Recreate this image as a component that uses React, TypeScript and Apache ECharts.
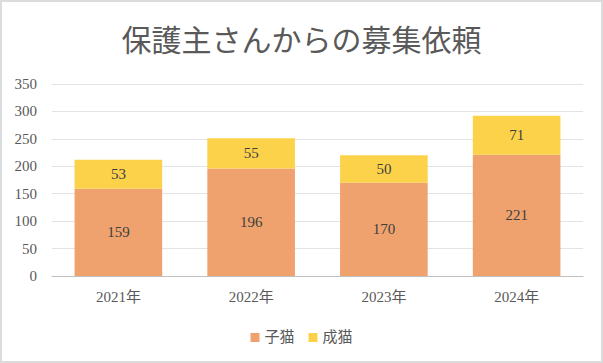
import React, { useEffect, useRef } from "react";
import * as echarts from "echarts";

const titleText = "保護主さんからの募集依頼";
const categories = ["2021年", "2022年", "2023年", "2024年"];
const kittens = [159, 196, 170, 221];
const adults = [53, 55, 50, 71];
const seriesNames = ["子猫", "成猫"];

const serif = "'Liberation Serif', 'DejaVu Serif', 'Noto Sans CJK JP', serif";

export default function App() {
  const ref = useRef<HTMLDivElement>(null);
  useEffect(() => {
    if (!ref.current) return;
    const chart = echarts.init(ref.current, undefined, { renderer: "svg" });
    chart.setOption({
      animation: false,
      backgroundColor: "#ffffff",
      title: {
        text: titleText,
        left: "center",
        top: 16,
        textStyle: {
          fontFamily: "'Noto Sans CJK JP', sans-serif",
          fontSize: 30,
          fontWeight: "normal",
          color: "#595959",
        },
      },
      legend: {
        data: seriesNames,
        bottom: 11,
        left: "center",
        itemWidth: 9,
        itemHeight: 9,
        itemGap: 14,
        icon: "rect",
        textStyle: { fontFamily: serif, fontSize: 15, color: "#595959" },
      },
      grid: { left: 50, right: 18, top: 82, bottom: 85 },
      xAxis: {
        type: "category",
        data: categories,
        axisTick: { show: false },
        axisLine: { lineStyle: { color: "#bfbfbf" } },
        axisLabel: { fontFamily: serif, fontSize: 15, color: "#595959", margin: 13 },
      },
      yAxis: {
        type: "value",
        min: 0,
        max: 350,
        interval: 50,
        axisLine: { show: false },
        axisTick: { show: false },
        splitLine: { lineStyle: { color: "#e3e3e3" } },
        axisLabel: { fontFamily: serif, fontSize: 15, color: "#595959", margin: 15 },
      },
      series: [
        {
          name: seriesNames[0],
          type: "bar",
          stack: "total",
          data: kittens,
          barWidth: "66%",
          itemStyle: { color: "#EFA26D" },
          label: { show: true, position: "inside", fontFamily: serif, fontSize: 15, color: "#404040" },
        },
        {
          name: seriesNames[1],
          type: "bar",
          stack: "total",
          data: adults,
          barWidth: "66%",
          itemStyle: { color: "#FDD24B" },
          label: { show: true, position: "inside", fontFamily: serif, fontSize: 15, color: "#404040" },
        },
      ],
    });
    return () => chart.dispose();
  }, []);
  return (
    <div
      style={{
        position: "absolute",
        left: 0,
        top: 0,
        width: 603,
        height: 363,
        boxSizing: "border-box",
        border: "2px solid #dcdcdc",
      }}
    >
      <div ref={ref} style={{ width: 599, height: 359 }} />
    </div>
  );
}
